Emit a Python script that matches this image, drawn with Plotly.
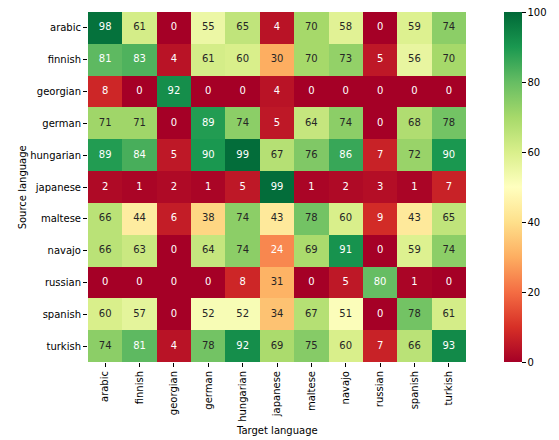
import plotly.graph_objects as go

langs = ["arabic", "finnish", "georgian", "german", "hungarian", "japanese",
         "maltese", "navajo", "russian", "spanish", "turkish"]

arabic    = [98, 61, 0, 55, 65, 4, 70, 58, 0, 59, 74]
finnish   = [81, 83, 4, 61, 60, 30, 70, 73, 5, 56, 70]
georgian  = [8, 0, 92, 0, 0, 4, 0, 0, 0, 0, 0]
german    = [71, 71, 0, 89, 74, 5, 64, 74, 0, 68, 78]
hungarian = [89, 84, 5, 90, 99, 67, 76, 86, 7, 72, 90]
japanese  = [2, 1, 2, 1, 5, 99, 1, 2, 3, 1, 7]
maltese   = [66, 44, 6, 38, 74, 43, 78, 60, 9, 43, 65]
navajo    = [66, 63, 0, 64, 74, 24, 69, 91, 0, 59, 74]
russian   = [0, 0, 0, 0, 8, 31, 0, 5, 80, 1, 0]
spanish   = [60, 57, 0, 52, 52, 34, 67, 51, 0, 78, 61]
turkish   = [74, 81, 4, 78, 92, 69, 75, 60, 7, 66, 93]

z = [arabic, finnish, georgian, german, hungarian, japanese,
     maltese, navajo, russian, spanish, turkish]

# RdYlGn (ColorBrewer 11) anchor colours
rdylgn = [(165, 0, 38), (215, 48, 39), (244, 109, 67), (253, 174, 97), (254, 224, 139),
          (255, 255, 191), (217, 239, 139), (166, 217, 106), (102, 189, 99), (26, 152, 80),
          (0, 104, 55)]


def cmap(v):
    t = max(0.0, min(1.0, v / 100.0)) * 10
    i = min(int(t), 9)
    f = t - i
    a, b = rdylgn[i], rdylgn[i + 1]
    return tuple(a[k] + (b[k] - a[k]) * f for k in range(3))


def lum(rgb):
    out = []
    for c in rgb:
        c = c / 255.0
        out.append(c / 12.92 if c <= 0.03928 else ((c + 0.055) / 1.055) ** 2.4)
    return 0.2126 * out[0] + 0.7152 * out[1] + 0.0722 * out[2]


xs, ys, texts, colors = [], [], [], []
for r, row in enumerate(z):
    for c, v in enumerate(row):
        xs.append(langs[c])
        ys.append(langs[r])
        texts.append(str(v))
        colors.append("#262626" if lum(cmap(v)) > 0.408 else "#ffffff")

fig = go.Figure()
fig.add_trace(go.Heatmap(
    z=z, x=langs, y=langs, zmin=0, zmax=100,
    colorscale="RdYlGn", xgap=0, ygap=0, hoverinfo="skip",
    colorbar=dict(
        x=(532 - 88) / 403, xanchor="left", xpad=0, y=0.5, yanchor="middle", len=1, ypad=0,
        thickness=18, outlinewidth=0, ticks="outside", ticklen=4, tickwidth=1,
        tickcolor="#000", tickvals=[0, 20, 40, 60, 80, 100],
        tickfont=dict(family="DejaVu Sans", size=10, color="#000"),
    ),
))
fig.add_trace(go.Scatter(
    x=xs, y=ys, mode="text", text=texts,
    textfont=dict(family="DejaVu Sans", size=10, color=colors),
    hoverinfo="skip", showlegend=False,
))

fig.update_layout(
    width=559, height=440,
    margin=dict(l=88, r=68, t=12, b=78),
    paper_bgcolor="white", plot_bgcolor="white",
    font=dict(family="DejaVu Sans", size=10, color="#000"),
    showlegend=False,
    annotations=[
        dict(text="Target language", xref="paper", yref="paper", x=0.5, y=-68 / 350,
             xanchor="center", yanchor="middle", showarrow=False,
             font=dict(family="DejaVu Sans", size=10, color="#000")),
        dict(text="Source language", xref="paper", yref="paper", x=-70 / 403, y=0.5,
             xanchor="center", yanchor="middle", showarrow=False, textangle=-90,
             font=dict(family="DejaVu Sans", size=10, color="#000")),
    ],
)
fig.update_xaxes(
    type="category", range=[-0.5, 10.5], tickangle=-90, ticks="outside", ticklen=4,
    tickcolor="#000", showgrid=False, zeroline=False, showline=False, automargin=False,
)
fig.update_yaxes(
    type="category", range=[10.5, -0.5], ticks="outside", ticklen=4, tickcolor="#000",
    showgrid=False, zeroline=False, showline=False, automargin=False,
)

fig.write_html("out.html", config={"displayModeBar": False},
               post_script="document.body.style.margin='0';")
